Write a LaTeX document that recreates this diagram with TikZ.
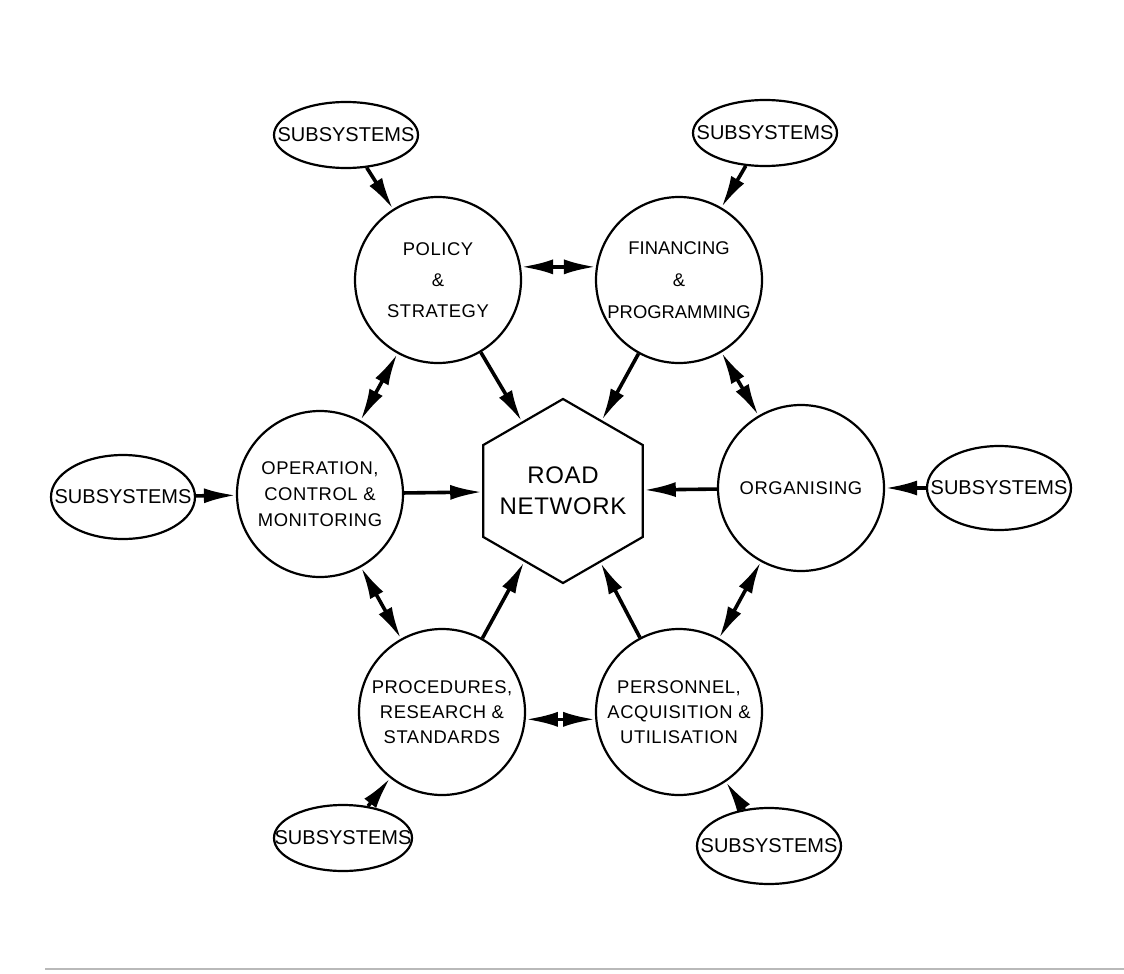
\documentclass[tikz,border=0pt]{standalone}
\usepackage{fontspec}
\setmainfont{Liberation Sans}
\newfontfamily\lettering[LetterSpace=3]{Liberation Sans}
\usepackage{tikz}
\usetikzlibrary{arrows.meta, shapes.geometric}

\begin{document}
\begin{tikzpicture}[x=0.5pt, y=-0.5pt, >={Latex[length=16pt, width=7.5pt]},
    func/.style={draw, circle, line width=1.1pt, minimum size=83pt, inner sep=0pt,
        align=center, font=\lettering\fontsize{9.2}{12.5}\selectfont},
    subsys/.style={draw, ellipse, line width=1.1pt, inner sep=0pt,
        minimum width=72pt, minimum height=33pt, font=\fontsize{10}{12}\selectfont},
    link/.style={->, line width=1.8pt},
    both/.style={<->, line width=1.8pt}]
    \useasboundingbox (0,0) rectangle (1124,974);
    % Centre: the road network
    \node[draw, regular polygon, regular polygon sides=6, shape border rotate=30,
        line width=1.1pt, minimum size=92pt, inner sep=0pt, align=center,
        font=\lettering\fontsize{12}{15.5}\selectfont] (hex) at (563,491)
        {\makebox[0pt]{ROAD}\\\makebox[0pt]{NETWORK}};
    % Functions round the hexagon
    \node[func, font=\lettering\fontsize{9.2}{15.5}\selectfont] (pol) at (438,280) {POLICY\\\&\\STRATEGY};
    \node[func, font=\fontsize{9.2}{16}\selectfont] (fin) at (679,280) {FINANCING\\\&\\PROGRAMMING};
    \node[func] (org) at (801,488) {ORGANISING};
    \node[func] (per) at (679,712) {PERSONNEL,\\ACQUISITION \&\\UTILISATION};
    \node[func] (pro) at (442,712) {PROCEDURES,\\RESEARCH \&\\STANDARDS};
    \node[func, font=\lettering\fontsize{9.2}{13}\selectfont] (ope) at (320,494) {OPERATION,\\CONTROL \&\\MONITORING};
    % Subsystems
    \node[subsys] (stl) at (346,135) {\makebox[0pt]{SUBSYSTEMS}};
    \node[subsys] (str) at (765,133) {\makebox[0pt]{SUBSYSTEMS}};
    \node[subsys, minimum height=42pt] (sl) at (123,497) {\makebox[0pt]{SUBSYSTEMS}};
    \node[subsys, minimum height=42pt] (sr) at (999,488) {\makebox[0pt]{SUBSYSTEMS}};
    \node[subsys, minimum width=69pt] (sbl) at (343,838) {\makebox[0pt]{SUBSYSTEMS}};
    \node[subsys, minimum height=38pt] (sbr) at (769,846) {\makebox[0pt]{SUBSYSTEMS}};
    % Subsystems feed the functions
    \draw[link] (stl) -- (pol);
    \draw[link] (str) -- (fin);
    \draw[link] (sl) -- (ope);
    \draw[link] (sr) -- (org);
    \draw[link] (sbl) -- (pro);
    \draw[link] (sbr) -- (per);
    % Ring of two-way links
    \draw[both] (pol.9) -- (fin.171);
    \draw[both] (fin) -- (org);
    \draw[both] (org) -- (per);
    \draw[both] (per.185) -- (pro.-5);
    \draw[both] (pro) -- (ope);
    \draw[both] (ope) -- (pol);
    % Functions act on the network
    \foreach \f in {pol, fin, org, per, pro, ope}
        \draw[link] (\f) -- (hex);
    % Page edge
    \draw[gray!55, line width=1.2pt] (45,969) -- (1124,969);
\end{tikzpicture}
\end{document}
